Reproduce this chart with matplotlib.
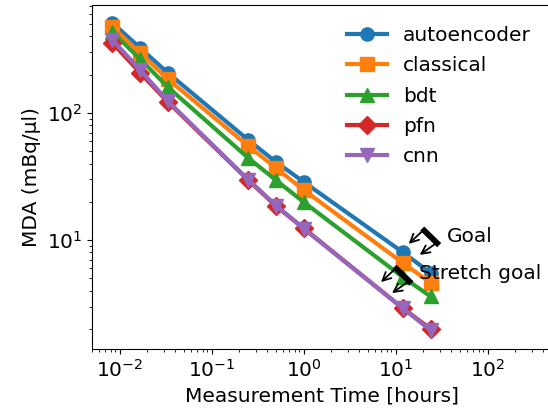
import matplotlib
matplotlib.use("Agg")
import matplotlib.pyplot as plt
import numpy as np


# measurement times in hours: 30 s, 1 min, 2 min, 15 min, 30 min, 1 h, 12 h, 24 h
time_hours = [30 / 3600, 1 / 60, 2 / 60, 0.25, 0.5, 1.0, 12.0, 24.0]

model_names = ["autoencoder", "classical", "bdt", "pfn", "cnn"]
mda_autoencoder = [512, 325, 207, 61.3, 41.1, 28.7, 8.0, 5.5]
mda_classical = [475, 296, 185, 55.0, 36.9, 24.8, 6.6, 4.6]
mda_bdt = [434, 266, 160, 44.2, 29.6, 19.9, 5.1, 3.6]
mda_pfn = [356, 207, 122, 29.6, 18.5, 12.4, 2.9, 2.0]
mda_cnn = [376, 218, 124, 29.8, 18.7, 12.3, 2.9, 1.95]

markers = ["o", "s", "^", "D", "v"]

# targets: time [h], MDA [mBq/ul]
goal_time, goal_mda = 24.0, 10.6
stretch_time, stretch_mda = 12.0, 5.3

plt.rcParams["font.size"] = 14.5

fig = plt.figure(figsize=(5.48, 4.17), dpi=100)
ax = fig.add_axes([0.1679, 0.1631, 0.8394, 0.825])

all_mda = [mda_autoencoder, mda_classical, mda_bdt, mda_pfn, mda_cnn]
for name, mda, mk in zip(model_names, all_mda, markers):
    ax.plot(time_hours, mda, marker=mk, lw=3, ms=9.5, label=name)

ax.set_xscale("log")
ax.set_yscale("log")
ax.set_xlim(0.005, 500)
ax.set_ylim(1.39, 708)
ax.set_xlabel("Measurement Time [hours]")
ax.set_ylabel("MDA (mBq/µl)")
ax.legend(loc="upper right", frameon=False, labelspacing=0.56, borderaxespad=0.65)


def draw_target(t, mda, label, text_dy=0):
    """ Thick bar with two arrows pointing towards lower time / lower MDA """
    cx, cy = ax.transData.transform((t, mda))
    pix = dict(xycoords="figure pixels", textcoords="figure pixels")
    # bar
    ax.annotate("", xy=(cx + 8.5, cy - 8.3), xytext=(cx - 8.5, cy + 8.3),
                arrowprops=dict(arrowstyle="-", lw=4.2, color="k",
                                shrinkA=0, shrinkB=0, capstyle="butt"), **pix)
    # arrows
    for tail, tip in [((-7, 7), (-22, -7)), ((6, -6), (-11, -18))]:
        ax.annotate("", xy=(cx + tip[0], cy + tip[1]),
                    xytext=(cx + tail[0], cy + tail[1]),
                    arrowprops=dict(arrowstyle="->", lw=1.3, color="k",
                                    mutation_scale=15,
                                    shrinkA=0, shrinkB=0), **pix)
    ax.annotate(label, xy=(cx + 16, cy + text_dy), xycoords="figure pixels",
                va="center", ha="left")


draw_target(goal_time, goal_mda, "Goal")
draw_target(stretch_time, stretch_mda, "Stretch goal", text_dy=2)

fig.savefig("out.png", dpi=100)
